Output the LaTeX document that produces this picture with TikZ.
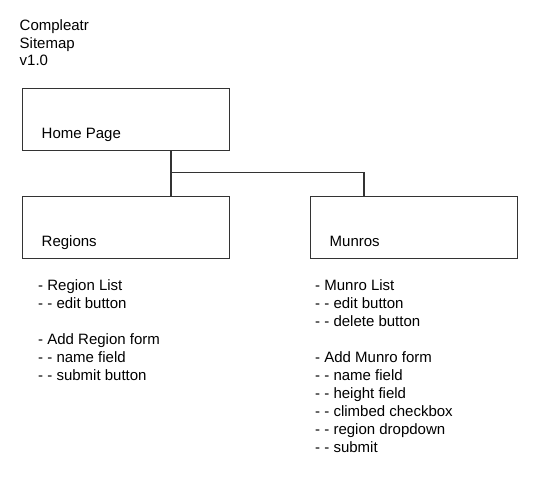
\documentclass[tikz,border=0pt]{standalone}
\usepackage{fontspec}
\setmainfont{Liberation Sans}
\begin{document}
\begin{tikzpicture}[x=1pt,y=-1pt,
  pagebox/.style={draw=black!80,line width=1.4pt,minimum width=207pt,minimum height=62pt,inner sep=0pt,anchor=north west},
  conn/.style={draw=black!80,line width=1.4pt},
  boxtext/.style={anchor=base west,inner sep=0pt,font=\fontsize{15}{18}\selectfont},
  listtext/.style={anchor=north west,inner sep=0pt,align=left,font=\fontsize{15}{18}\selectfont},
  titletext/.style={anchor=north west,inner sep=0pt,align=left,font=\fontsize{15}{17.5}\selectfont}]
\useasboundingbox (0,0) rectangle (546,486);
\node[titletext] (title) at (19.5,30.5-12.25) {\strut Compleatr\\\strut Sitemap\\\strut v1.0};
\node[pagebox] (home) at (22,88) {};
\node[pagebox] (regions) at (22,196) {};
\node[pagebox,minimum width=206.5pt] (munros) at (310,196) {};
\node[boxtext] (homet) at (41.5,139) {Home Page};
\node[boxtext] (regionst) at (41.5,247) {Regions};
\node[boxtext] (munrost) at (329.5,247) {Munros};
\coordinate (j) at (171,172.5);
\coordinate (m) at (364,172.5);
\draw[conn] (home.south -| j) -- (regions.north -| j);
\draw[conn] (j) -- (m) -- (munros.north -| m);
\node[listtext] (rlist) at (38,290-12.6) {\strut - Region List\\\strut - - edit button\\\strut\\\strut - Add Region form\\\strut - - name field\\\strut - - submit button};
\node[listtext] (mlist) at (315,290-12.6) {\strut - Munro List\\\strut - - edit button\\\strut - - delete button\\\strut\\\strut - Add Munro form\\\strut - - name field\\\strut - - height field\\\strut - - climbed checkbox\\\strut - - region dropdown\\\strut - - submit};
\end{tikzpicture}
\end{document}
